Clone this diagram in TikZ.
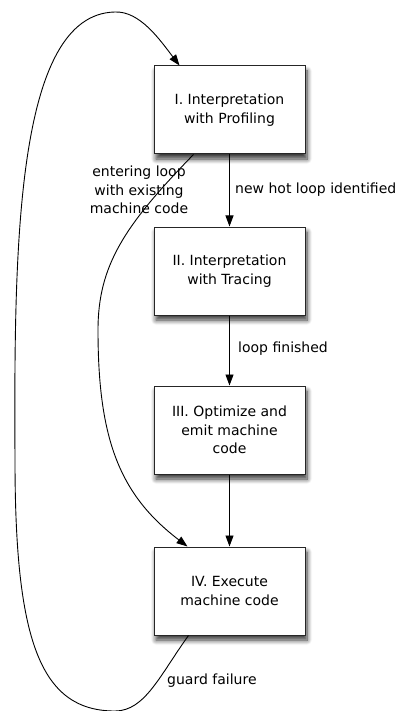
\documentclass[tikz,border=0pt]{standalone}
\usepackage{fontspec}
\setmainfont{DejaVu Sans}
\usetikzlibrary{arrows.meta,shadows.blur}
\begin{document}
\begin{tikzpicture}[x=1pt,y=-1pt,
  stagebox/.style={draw=black!85,line width=1pt,fill=white,minimum width=151pt,minimum height=88pt,
    align=center,inner sep=2pt,font=\fontsize{14}{18.5}\selectfont,
    blur shadow={shadow xshift=2pt,shadow yshift=-5pt,shadow blur steps=8,shadow blur radius=5pt,shadow opacity=80}},
  lbl/.style={font=\fontsize{14}{18.5}\selectfont,inner sep=0pt,align=center},
  conn/.style={line width=0.9pt,-{Triangle[length=11pt,width=8pt]}}]
\useasboundingbox (0,0) rectangle (403,711);
\node[stagebox] (I)   at (229.5,110) {I. Interpretation\\with Profiling};
\node[stagebox] (II)  at (229.5,271) {II. Interpretation\\with Tracing};
\node[stagebox] (III) at (229.5,430) {III. Optimize and\\emit machine\\code};
\node[stagebox] (IV)  at (229.5,591) {IV. Execute\\machine code};
\draw[conn] (I) -- (II);
\draw[conn] (II) -- (III);
\draw[conn] (III) -- (IV);
\coordinate (Iout) at ([xshift=40pt]I.south west);
\coordinate (IVin) at ([xshift=34pt]IV.north west);
\coordinate (IVout) at ([xshift=35pt]IV.south west);
\coordinate (Iin) at ([xshift=26pt]I.north west);
\draw[conn] (Iout) .. controls (125,225) and (98,265) .. (98,330)
  .. controls (98,440) and (120,495) .. (IVin);
\draw[conn] (IVout) .. controls (160,675) and (145,711) .. (115,711)
  .. controls (40,711) and (15,640) .. (15,460)
  .. controls (14,250) and (15,14) .. (115,12)
  .. controls (140,11) and (160,40) .. (Iin);
\node[lbl] (l1) at (139,190) {entering loop\\with existing\\machine code};
\node[lbl,anchor=west] (l2) at (235,190) {new hot loop identified};
\node[lbl,anchor=west] (l3) at (238,349) {loop finished};
\node[lbl,anchor=west] (l4) at (167,681) {guard failure};
\end{tikzpicture}
\end{document}
